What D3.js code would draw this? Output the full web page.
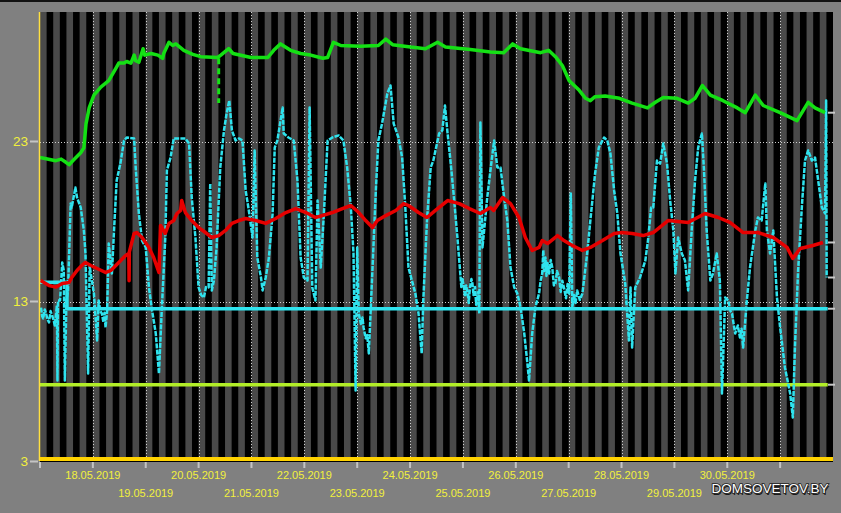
<!DOCTYPE html>
<html><head><meta charset="utf-8">
<script src="https://cdn.jsdelivr.net/npm/d3@7"></script>
<style>html,body{margin:0;padding:0;background:#808080;overflow:hidden}svg{display:block}</style>
</head><body><svg id="c" width="841" height="513"></svg>
<script>
// x values are days since 17.05.2019 00:00
const dayLabels = ["18.05.2019","19.05.2019","20.05.2019","21.05.2019","22.05.2019","23.05.2019","24.05.2019","25.05.2019","26.05.2019","27.05.2019","28.05.2019","29.05.2019","30.05.2019"];
const dayTicks = [0,1,2,3,4,5,6,7,8,9,10,11,12,13,14];
const yTicks = [3,13,23];

// green series (top)
const greenSeries = [[0,22.0],[0.30,21.8],[0.40,21.9],[0.49,21.7],[0.55,21.55],[0.62,21.8],[0.77,22.3],[0.83,22.6],[0.87,24.1],[0.93,25.1],[1.02,25.9],[1.15,26.4],[1.30,26.8],[1.44,27.6],[1.49,27.9],[1.59,27.9],[1.64,28.0],[1.72,27.9],[1.78,28.4],[1.81,28.05],[1.87,27.95],[1.95,28.8],[1.98,28.4],[2.10,28.5],[2.23,28.4],[2.32,28.2],[2.34,28.5],[2.44,29.2],[2.51,29.0],[2.57,29.1],[2.72,28.7],[2.89,28.45],[3.04,28.3],[3.36,28.25],[3.42,28.4],[3.57,28.8],[3.65,28.5],[3.99,28.25],[4.31,28.25],[4.42,28.7],[4.55,29.1],[4.74,28.7],[4.93,28.5],[5.12,28.4],[5.35,28.2],[5.44,28.25],[5.55,29.2],[5.69,29.0],[6.06,28.95],[6.40,29.0],[6.54,29.4],[6.67,29.05],[7.01,28.9],[7.29,28.8],[7.52,29.2],[7.67,28.9],[8.14,28.75],[8.52,28.6],[8.77,28.55],[8.94,29.1],[9.09,28.8],[9.47,28.55],[9.62,28.7],[9.75,28.3],[9.88,27.75],[10.01,26.8],[10.20,26.2],[10.32,25.7],[10.41,25.55],[10.50,25.8],[10.69,25.85],[10.96,25.7],[11.20,25.4],[11.49,25.1],[11.64,25.45],[11.79,25.75],[12.05,25.7],[12.26,25.4],[12.39,25.7],[12.53,26.5],[12.68,25.9],[12.92,25.55],[13.19,25.1],[13.34,24.8],[13.53,25.9],[13.68,25.25],[14.00,24.8],[14.32,24.3],[14.53,25.45],[14.66,25.1],[14.85,24.8]];
const greenDropDay = 3.38;
const greenDropVals = [28.2, 25.4];

// red series
const redSeries = [[0.01,14.31],[0.17,14.0],[0.30,13.9],[0.42,14.12],[0.55,14.19],[0.60,14.5],[0.70,14.94],[0.79,15.25],[0.86,15.44],[0.96,15.25],[1.08,15.06],[1.24,14.81],[1.34,14.94],[1.49,15.44],[1.62,15.87],[1.68,16.0],[1.685,14.3],[1.69,16.1],[1.78,17.25],[1.83,17.31],[1.93,17.0],[2.06,16.38],[2.15,15.75],[2.25,14.81],[2.28,17.75],[2.37,17.25],[2.44,17.88],[2.53,18.06],[2.59,18.5],[2.66,18.69],[2.68,19.31],[2.75,18.56],[2.87,18.06],[3.00,17.62],[3.13,17.31],[3.25,17.0],[3.38,17.12],[3.51,17.44],[3.63,17.88],[3.76,18.06],[3.89,18.19],[4.08,18.06],[4.27,17.88],[4.46,18.19],[4.65,18.56],[4.84,18.81],[5.03,18.56],[5.21,18.25],[5.34,18.37],[5.53,18.56],[5.72,18.81],[5.88,19.0],[6.03,18.56],[6.16,18.06],[6.29,17.62],[6.38,18.06],[6.54,18.37],[6.73,18.69],[6.88,19.12],[6.97,19.0],[7.16,18.56],[7.32,18.25],[7.48,18.69],[7.71,19.31],[7.93,19.12],[8.12,18.81],[8.33,18.5],[8.52,18.88],[8.58,18.69],[8.75,19.5],[8.90,19.12],[9.06,18.25],[9.18,17.0],[9.31,16.19],[9.44,16.38],[9.50,16.81],[9.60,16.62],[9.79,17.12],[9.91,16.81],[10.07,16.5],[10.26,16.19],[10.41,16.38],[10.64,16.81],[10.86,17.25],[11.01,17.31],[11.20,17.25],[11.41,17.12],[11.60,17.31],[11.88,18.06],[12.26,17.94],[12.58,18.5],[12.83,18.25],[13.05,17.94],[13.30,17.31],[13.58,17.31],[13.87,17.0],[14.13,16.38],[14.24,15.69],[14.38,16.31],[14.62,16.5],[14.81,16.69]];

// cyan series
const cyanSeries = [[0.02,12.62],[0.04,12.1],[0.06,11.94],[0.09,12.5],[0.11,12.31],[0.14,11.9],[0.17,11.69],[0.20,12.4],[0.23,12.12],[0.26,11.8],[0.28,11.5],[0.32,12.75],[0.33,8.06],[0.34,13.06],[0.38,13.06],[0.42,15.44],[0.45,14.94],[0.47,8.06],[0.50,13.06],[0.53,13.69],[0.58,19.12],[0.60,18.88],[0.67,20.12],[0.70,19.5],[0.77,18.88],[0.83,17.44],[0.86,16.0],[0.91,8.5],[0.94,15.25],[0.96,14.75],[1.02,13.5],[1.08,10.56],[1.11,13.06],[1.14,12.4],[1.17,12.25],[1.20,11.7],[1.22,12.3],[1.24,11.38],[1.27,12.44],[1.30,16.62],[1.36,14.75],[1.40,17.44],[1.45,20.56],[1.52,21.62],[1.59,23.06],[1.64,23.25],[1.78,23.19],[1.81,21.38],[1.87,18.5],[1.93,16.81],[2.00,16.38],[2.06,13.88],[2.12,12.44],[2.19,11.0],[2.25,8.5],[2.30,12.25],[2.37,17.0],[2.40,21.19],[2.47,22.0],[2.53,23.19],[2.75,23.19],[2.82,22.88],[2.87,19.5],[2.94,17.0],[3.00,13.88],[3.05,13.4],[3.10,13.25],[3.14,13.9],[3.19,13.88],[3.22,20.38],[3.25,13.69],[3.29,14.31],[3.34,16.38],[3.41,21.38],[3.48,23.69],[3.53,24.75],[3.58,25.56],[3.63,23.69],[3.70,23.06],[3.76,23.19],[3.83,23.06],[3.89,19.94],[3.95,18.69],[4.02,17.0],[4.06,22.44],[4.11,15.75],[4.18,14.5],[4.21,13.69],[4.27,14.5],[4.33,15.75],[4.40,18.5],[4.44,22.62],[4.49,23.06],[4.59,25.12],[4.61,23.5],[4.70,23.25],[4.80,23.06],[4.87,20.56],[4.93,15.75],[4.99,14.5],[5.06,14.31],[5.10,25.12],[5.15,13.88],[5.21,13.06],[5.25,19.31],[5.31,15.12],[5.37,18.5],[5.44,23.06],[5.53,23.25],[5.65,23.38],[5.74,23.06],[5.81,21.38],[5.88,18.88],[5.93,16.0],[5.97,7.44],[6.00,16.38],[6.03,12.25],[6.07,11.6],[6.10,12.0],[6.12,11.38],[6.16,10.7],[6.19,10.9],[6.22,9.75],[6.29,15.12],[6.35,19.75],[6.40,23.06],[6.47,24.12],[6.57,26.0],[6.63,26.5],[6.69,24.12],[6.78,23.25],[6.85,22.0],[6.91,18.88],[6.97,15.12],[7.10,13.5],[7.16,12.25],[7.22,9.75],[7.25,13.06],[7.32,18.06],[7.39,21.38],[7.44,21.81],[7.55,23.5],[7.61,23.69],[7.66,25.25],[7.71,23.5],[7.77,21.62],[7.83,19.5],[7.90,16.81],[7.95,14.75],[7.97,13.9],[7.99,14.4],[8.02,13.88],[8.04,13.3],[8.06,14.0],[8.09,13.5],[8.11,12.9],[8.13,13.8],[8.16,14.4],[8.18,14.12],[8.20,13.4],[8.23,13.9],[8.25,12.8],[8.27,13.06],[8.29,13.6],[8.31,12.25],[8.33,24.19],[8.37,16.38],[8.46,19.5],[8.52,21.19],[8.59,23.06],[8.65,21.38],[8.71,21.38],[8.78,19.5],[8.84,18.06],[8.90,15.12],[8.97,13.88],[9.03,13.5],[9.09,12.62],[9.16,11.0],[9.22,9.12],[9.25,8.06],[9.31,11.0],[9.37,12.62],[9.44,13.5],[9.47,14.3],[9.50,14.75],[9.52,16.2],[9.54,14.9],[9.56,15.75],[9.58,14.6],[9.60,15.4],[9.63,14.75],[9.66,15.6],[9.69,15.12],[9.72,14.0],[9.75,14.12],[9.78,14.9],[9.82,14.5],[9.85,13.6],[9.88,14.3],[9.91,13.88],[9.95,13.2],[9.98,14.1],[10.01,13.5],[10.04,19.75],[10.07,12.62],[10.10,13.4],[10.13,12.9],[10.16,13.69],[10.21,13.1],[10.26,13.5],[10.35,16.0],[10.41,18.06],[10.50,21.0],[10.57,22.62],[10.67,23.25],[10.73,23.06],[10.79,22.25],[10.86,19.94],[10.92,18.5],[10.98,16.0],[11.07,14.12],[11.14,10.56],[11.17,13.88],[11.20,10.12],[11.26,13.88],[11.35,14.5],[11.45,15.56],[11.50,16.81],[11.56,18.88],[11.60,18.88],[11.67,21.81],[11.73,21.62],[11.79,22.88],[11.86,21.62],[11.92,19.31],[11.98,17.44],[12.02,14.75],[12.07,17.0],[12.14,16.0],[12.20,15.56],[12.26,13.69],[12.33,17.62],[12.39,20.56],[12.45,22.62],[12.52,23.5],[12.56,21.19],[12.61,17.44],[12.68,14.31],[12.73,14.75],[12.80,16.0],[12.86,14.31],[12.90,7.25],[12.96,13.25],[13.02,13.06],[13.06,12.4],[13.09,12.25],[13.12,11.6],[13.15,11.0],[13.20,11.5],[13.24,10.75],[13.27,11.3],[13.30,10.12],[13.37,13.06],[13.43,15.12],[13.53,17.44],[13.58,18.25],[13.65,18.06],[13.72,20.38],[13.75,17.44],[13.81,16.0],[13.87,17.44],[13.94,13.25],[14.00,11.38],[14.09,8.88],[14.19,7.25],[14.24,5.75],[14.28,10.12],[14.34,14.94],[14.41,18.88],[14.47,21.81],[14.53,22.44],[14.60,21.81],[14.66,22.0],[14.72,20.56],[14.79,18.88],[14.85,18.5],[14.87,25.56],[14.88,14.5]];

// threshold lines
const cyanLimitDays = [0, 0.51, 14.9];
const cyanLimitVals = [14.2, 12.55];
const limeLevel = 7.8;
const limeEndDay = 14.9;

const svg = d3.select("#c");
const W = 841, H = 513;
const pL = 40, pR = 833, pT = 12, pB = 462;
const x = d3.scaleLinear().domain([0, 15]).range([40, 833]);
const y = d3.scaleLinear().domain([3, 23]).range([461.5, 141.5]);

// page border
svg.append("rect").attr("x",0).attr("y",0).attr("width",W).attr("height",2).attr("fill","#111");

// plot background
svg.append("rect").attr("x",pL).attr("y",pT).attr("width",pR-pL).attr("height",pB-pT).attr("fill","#000");

// stripes every 6 hours, gray for 3 hours
const stripes = d3.range(60).map(i => i*0.25);
svg.append("g").selectAll("rect").data(stripes).join("rect")
  .attr("x", d => x(d)).attr("y", pT)
  .attr("width", d => x(d+0.125) - x(d)).attr("height", 457 - pT)
  .attr("fill", "#4a4a4a");

// grid lines
const grid = svg.append("g").attr("stroke","#cfcfcf").attr("stroke-width",1).attr("stroke-dasharray","1,2");
grid.selectAll("line.v").data(dayTicks.slice(1)).join("line").attr("class","v")
  .attr("x1", d => Math.round(x(d))+0.5).attr("x2", d => Math.round(x(d))+0.5)
  .attr("y1", pT).attr("y2", 457);
grid.selectAll("line.h").data([13,23]).join("line").attr("class","h")
  .attr("x1", pL).attr("x2", pR)
  .attr("y1", d => Math.round(y(d))+0.5).attr("y2", d => Math.round(y(d))+0.5);

// lime line
svg.append("line").attr("x1", x(0)).attr("x2", x(limeEndDay))
  .attr("y1", y(limeLevel)).attr("y2", y(limeLevel))
  .attr("stroke","#b2ee28").attr("stroke-width",3.5);

// cyan limit (step)
const limitPts = [[cyanLimitDays[0], cyanLimitVals[0]],[cyanLimitDays[1], cyanLimitVals[0]],[cyanLimitDays[1], cyanLimitVals[1]],[cyanLimitDays[2], cyanLimitVals[1]]];
const line = d3.line().x(d => x(d[0])).y(d => y(d[1]));
svg.append("path").attr("d", line(limitPts)).attr("fill","none")
  .attr("stroke","#2fe3ee").attr("stroke-width",3.5);

// cyan data
svg.append("path").attr("d", line(cyanSeries)).attr("fill","none")
  .attr("stroke","#2fe3ee").attr("stroke-width",2.5).attr("stroke-dasharray","5,1.2")
  .attr("stroke-linejoin","round");

// red
svg.append("path").attr("d", line(redSeries)).attr("fill","none")
  .attr("stroke","#e60000").attr("stroke-width",3.5).attr("stroke-linejoin","round");

// green
svg.append("path").attr("d", line(greenSeries)).attr("fill","none")
  .attr("stroke","#14e014").attr("stroke-width",3.5).attr("stroke-linejoin","round");
svg.append("line").attr("x1", x(greenDropDay)).attr("x2", x(greenDropDay))
  .attr("y1", y(greenDropVals[0])).attr("y2", y(greenDropVals[1]))
  .attr("stroke","#14e014").attr("stroke-width",3).attr("stroke-dasharray","6,4");

// axis lines
svg.append("line").attr("x1", 39.5).attr("x2", 39.5).attr("y1", pT).attr("y2", 461)
  .attr("stroke","#ffe040").attr("stroke-width",1.5);
svg.append("line").attr("x1", pL).attr("x2", pR).attr("y1", 459).attr("y2", 459)
  .attr("stroke","#ffd200").attr("stroke-width",4);

// y ticks and labels
const yg = svg.append("g");
yg.selectAll("line").data(yTicks).join("line")
  .attr("x1", 30).attr("x2", 38).attr("y1", d => y(d)).attr("y2", d => y(d))
  .attr("stroke","#c4c4c4").attr("stroke-width",2);
yg.selectAll("text").data(yTicks).join("text")
  .attr("x", 28).attr("y", d => y(d)).attr("dy","0.36em").attr("text-anchor","end")
  .attr("font-family","'Liberation Sans', Arial, sans-serif").attr("font-size",13.5)
  .attr("fill","#f2f03c").text(d => d);

// right end markers
const rightMarks = [greenSeries[greenSeries.length-1][1], redSeries[redSeries.length-1][1], cyanSeries[cyanSeries.length-1][1], cyanLimitVals[1], limeLevel];
svg.append("g").selectAll("line").data(rightMarks).join("line")
  .attr("x1", 828).attr("x2", 835).attr("y1", d => y(d)).attr("y2", d => y(d))
  .attr("stroke","#c8c8c8").attr("stroke-width",2);

// x ticks and labels
const xg = svg.append("g");
xg.selectAll("line").data(dayTicks).join("line")
  .attr("x1", d => x(d)).attr("x2", d => x(d)).attr("y1", 462).attr("y2", 468)
  .attr("stroke","#c4c4c4").attr("stroke-width",2);
xg.selectAll("text").data(dayLabels).join("text")
  .attr("x", (d,i) => x(i+1)).attr("y", (d,i) => i % 2 === 0 ? 479 : 497)
  .attr("text-anchor","middle")
  .attr("font-family","'Liberation Sans', Arial, sans-serif").attr("font-size",11)
  .attr("fill","#f2f03c").text(d => d);

// watermark
const wm = svg.append("g").attr("font-family","'Liberation Sans', Arial, sans-serif").attr("font-size",13.5).attr("text-anchor","middle");
wm.append("text").attr("x", 771).attr("y", 494.5).attr("fill","#1a1a1a").text("DOMSOVETOV.BY");
wm.append("text").attr("x", 770).attr("y", 493).attr("fill","#fff")
  .attr("stroke","#222").attr("stroke-width",1.6).attr("paint-order","stroke").text("DOMSOVETOV.BY");
</script></body></html>
